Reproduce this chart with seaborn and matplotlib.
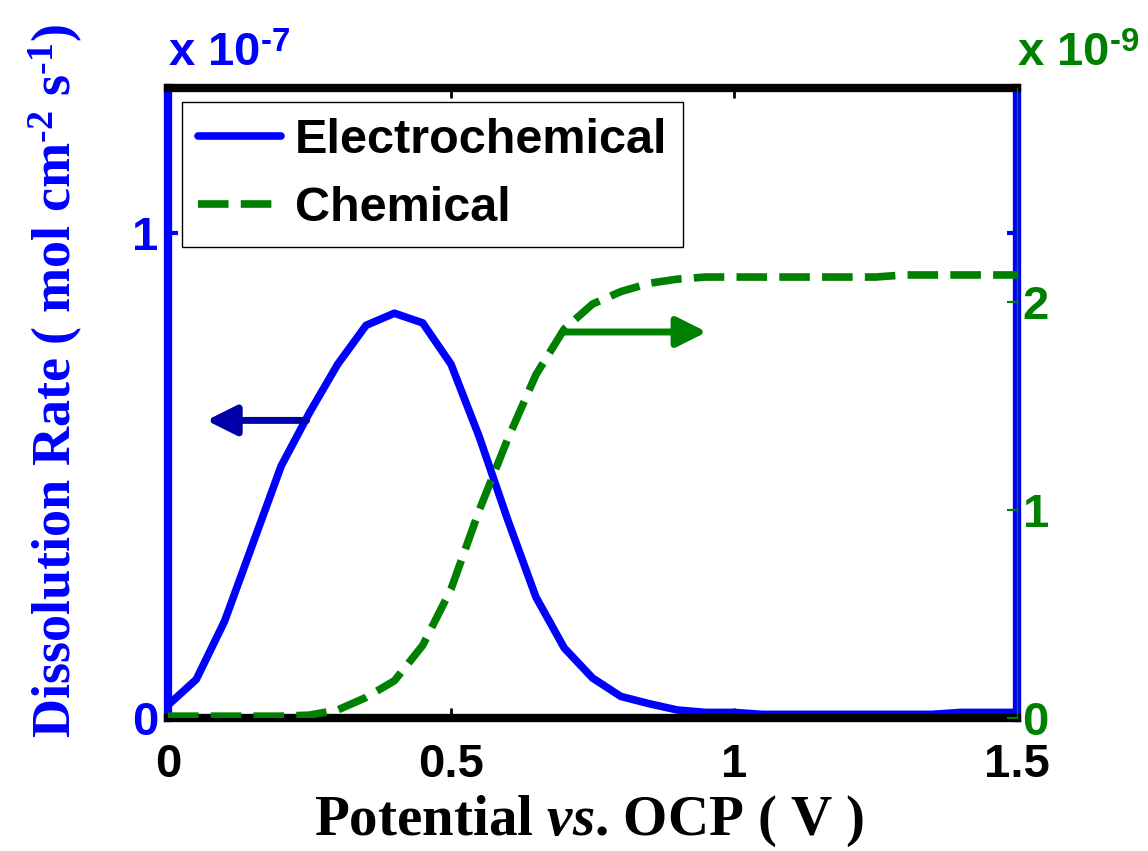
import numpy as np
import pandas as pd
import matplotlib
matplotlib.use("Agg")
import matplotlib.pyplot as plt
import seaborn as sns

# ---- data ----
potential = [0.00, 0.05, 0.10, 0.15, 0.20, 0.25, 0.30, 0.35, 0.40, 0.45,
             0.50, 0.55, 0.60, 0.65, 0.70, 0.75, 0.80, 0.85, 0.90, 0.95,
             1.00, 1.05, 1.10, 1.15, 1.20, 1.25, 1.30, 1.35, 1.40, 1.45, 1.50]
# electrochemical dissolution rate, units of 1e-7 mol cm^-2 s^-1
electro = [0.027, 0.08, 0.20, 0.36, 0.52, 0.63, 0.73, 0.81, 0.835, 0.815,
           0.73, 0.58, 0.41, 0.25, 0.145, 0.083, 0.045, 0.030, 0.017, 0.012,
           0.012, 0.008, 0.008, 0.008, 0.008, 0.008, 0.008, 0.008, 0.012, 0.012, 0.012]
# chemical dissolution rate, units of 1e-9 mol cm^-2 s^-1
chemical = [0.01, 0.01, 0.01, 0.01, 0.01, 0.015, 0.04, 0.10, 0.18, 0.35,
            0.62, 1.00, 1.34, 1.65, 1.87, 1.99, 2.05, 2.09, 2.11, 2.12,
            2.12, 2.12, 2.12, 2.12, 2.12, 2.12, 2.13, 2.13, 2.13, 2.13, 2.13]
x_ticks = [0, 0.5, 1, 1.5]
x_ticklabels = ["0", "0.5", "1", "1.5"]
left_ticks = [0, 1]
right_ticks = [0, 1, 2]

df = pd.DataFrame({"V": potential, "E": electro, "C": chemical})

sns.set_theme(style="white")
plt.rcParams["font.family"] = ["Liberation Sans", "DejaVu Sans"]
plt.rcParams["mathtext.fontset"] = "custom"
plt.rcParams["mathtext.rm"] = "Liberation Serif:bold"
plt.rcParams["mathtext.it"] = "Liberation Serif:italic:bold"
plt.rcParams["mathtext.bf"] = "Liberation Serif:bold"
plt.rcParams["mathtext.sf"] = "Liberation Sans:bold"

BLUE = "#0000ff"
GREEN = "#008000"
HY = "\u2010"  # short hyphen for exponents

fig = plt.figure(figsize=(11.48, 8.51), dpi=100)
ax1 = fig.add_axes([0.1463, 0.156, 0.7396, 0.741])
ax2 = ax1.twinx()

sns.lineplot(data=df, x="V", y="E", ax=ax1, color=BLUE, linewidth=5.5, label="Electrochemical", legend=False)
sns.lineplot(data=df, x="V", y="C", ax=ax2, color=GREEN, linewidth=5.5, label="Chemical", legend=False)
ln1 = ax1.get_lines()[0]
ln2 = ax2.get_lines()[0]
ln2.set_dashes((4, 1.6))
ln2.set_dash_capstyle("butt")

ax1.set_xlim(0, 1.5)
ax1.set_ylim(0, 1.3)
ax2.set_ylim(0, 3.03)

ax1.set_xticks(x_ticks)
ax1.set_xticklabels(x_ticklabels)
ax1.set_yticks(left_ticks)
ax1.set_yticklabels([str(t) for t in left_ticks])
ax2.set_yticks(right_ticks)
ax2.set_yticklabels([str(t) for t in right_ticks])

tick_font = dict(fontsize=34, fontweight="bold", family="Liberation Sans")
for lab in ax1.get_xticklabels():
    lab.set(**tick_font, color="black")
for lab in ax1.get_yticklabels():
    lab.set(**tick_font, color=BLUE)
for lab in ax2.get_yticklabels():
    lab.set(**tick_font, color=GREEN)

ax1.tick_params(axis="x", direction="in", length=7, width=2, colors="black", pad=18, top=True, bottom=True)
ax1.tick_params(axis="y", direction="in", length=7, width=3, colors=BLUE, pad=7, left=True, right=True)
ax1.tick_params(axis="y", labelcolor=BLUE)
ax2.tick_params(axis="y", direction="in", length=7, width=1.5, colors=GREEN, pad=4, right=True)
ax2.tick_params(axis="y", labelcolor=GREEN)

for s in ["top", "bottom"]:
    ax1.spines[s].set_color("black")
    ax1.spines[s].set_linewidth(6)
for s in ["left", "right"]:
    ax1.spines[s].set_color(BLUE)
    ax1.spines[s].set_linewidth(6)
for s in ["top", "bottom", "left"]:
    ax2.spines[s].set_visible(False)
ax2.spines["right"].set_color(GREEN)
ax2.spines["right"].set_linewidth(1)

ax1.set_xlabel("Potential $\\mathit{vs}$. OCP ( V )", fontsize=41, fontweight="bold",
               family="Liberation Serif", color="black")
ax1.xaxis.set_label_coords(0.496, -0.12)
ax1.set_ylabel("Dissolution Rate ( mol cm$^{" + HY + "2}$ s$^{" + HY + "1}$)", fontsize=39,
               fontweight="bold", family="Liberation Serif", color=BLUE)
ax1.yaxis.set_label_coords(-0.098, 0.535)
ax2.set_ylabel("")

ax1.text(0.0, 1.018, "x 10$^{\\mathsf{" + HY + "7}}$", transform=ax1.transAxes, ha="left", va="bottom",
         fontsize=34, fontweight="bold", color=BLUE)
ax2.text(1.0, 1.018, "x 10$^{\\mathsf{" + HY + "9}}$", transform=ax2.transAxes, ha="left", va="bottom",
         fontsize=34, fontweight="bold", color=GREEN)

# arrows indicating which axis each curve belongs to
ax1.annotate("", xy=(0.068, 0.614), xytext=(0.245, 0.614),
             arrowprops=dict(arrowstyle="-|>,head_length=0.9,head_width=0.45", color="#0000aa",
                             lw=5, mutation_scale=20, shrinkA=0, shrinkB=0, joinstyle="round"))
ax2.annotate("", xy=(0.952, 1.856), xytext=(0.697, 1.856),
             arrowprops=dict(arrowstyle="-|>,head_length=0.9,head_width=0.45", color=GREEN,
                             lw=5, mutation_scale=20, shrinkA=0, shrinkB=0, joinstyle="round"))

leg = ax2.legend([ln1, ln2], ["Electrochemical", "Chemical"], loc="upper left",
                 bbox_to_anchor=(0.017, 0.978), frameon=True, fancybox=False,
                 prop=dict(family="Liberation Sans", weight="bold", size=35),
                 labelcolor="black",
                 handlelength=1.7, handletextpad=0.28, borderpad=0.33, labelspacing=0.48,
                 borderaxespad=0)
leg.get_frame().set_edgecolor("black")
leg.get_frame().set_linewidth(1.0)
leg.get_frame().set_facecolor("white")
leg.get_frame().set_alpha(1)

fig.savefig("out.png", dpi=100)
